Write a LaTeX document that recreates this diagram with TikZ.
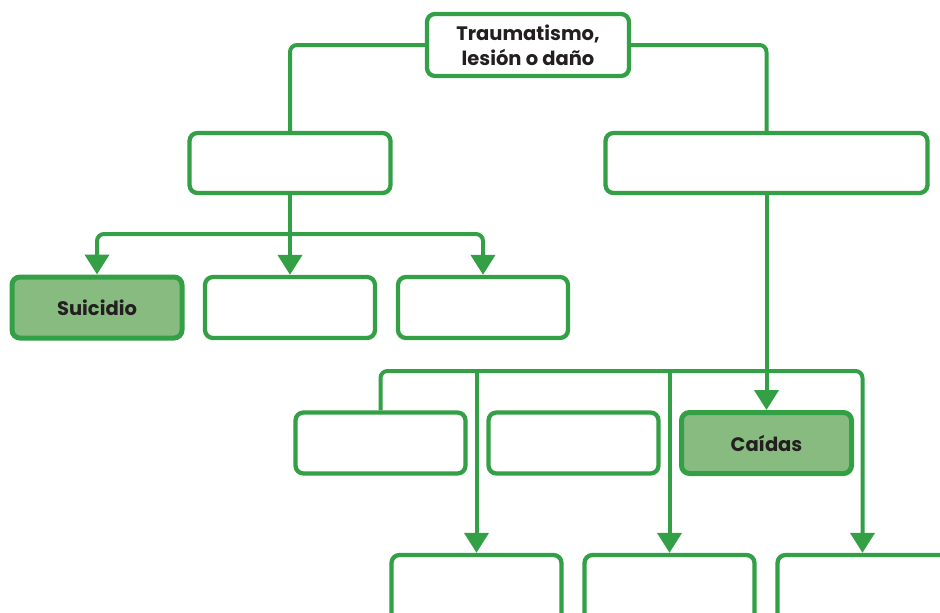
\documentclass[tikz,border=0pt]{standalone}
\usepackage{fontspec}
\setmainfont{Poppins}
\usetikzlibrary{arrows.meta}
\definecolor{gline}{RGB}{52,160,70}
\definecolor{gfill}{RGB}{136,187,128}
\definecolor{txt}{RGB}{35,31,32}
\tikzset{
  box/.style={draw=gline,line width=4.3pt,rounded corners=8pt,fill=white,inner sep=0pt,font=\bfseries\fontsize{19.5}{25}\selectfont,text=txt,align=center},
  hbox/.style={box,fill=gfill,line width=5pt},
  conn/.style={draw=gline,line width=4pt,rounded corners=7pt},
  arr/.style={conn,-{Triangle[width=24pt,length=20pt,sharp]}},
}
\begin{document}
\begin{tikzpicture}[x=1pt,y=-1pt]
\useasboundingbox (0,0) rectangle (940,613);
\clip (0,0) rectangle (940,613);
% nodes
\node[box,minimum width=202pt,minimum height=62pt] (top) at (528,45) {Traumatismo,\\lesión o daño};
\node[box,minimum width=201pt,minimum height=60pt] (la) at (290,163) {};
\node[box,minimum width=322pt,minimum height=60pt] (lb) at (766.5,163) {};
\node[hbox,minimum width=170pt,minimum height=61pt] (s1) at (97,307.5) {Suicidio};
\node[box,minimum width=170pt,minimum height=61pt] (s2) at (290,307.5) {};
\node[box,minimum width=170pt,minimum height=61pt] (s3) at (483,307.5) {};
\node[box,minimum width=170pt,minimum height=61pt] (r1) at (380.5,443) {};
\node[box,minimum width=170pt,minimum height=61pt] (r2) at (573.5,443) {};
\node[hbox,minimum width=170pt,minimum height=61pt] (r3) at (766.5,443) {Caídas};
\node[box,minimum width=170pt,minimum height=70pt] (b1) at (476.5,590) {};
\node[box,minimum width=170pt,minimum height=70pt] (b2) at (669.5,590) {};
\node[box,minimum width=170pt,minimum height=70pt] (b3) at (862.5,590) {};
\coordinate (hl) at (0,234);
\coordinate (hr) at (0,371);
% connectors
\draw[conn] (top.west) -| (la.north);
\draw[conn] (top.east) -| (lb.north);
\draw[arr] (la.south) -- (s2.north);
\draw[arr] (la.south |- hl) -| (s1.north);
\draw[arr] (la.south |- hl) -| (s3.north);
\draw[arr] (lb.south) -- (r3.north);
\draw[conn] (lb.south |- hr) -| (r1.north);
\draw[arr] (lb.south |- hr) -| (b3.north);
\draw[arr] (b1.north |- hr) -- (b1.north);
\draw[arr] (b2.north |- hr) -- (b2.north);
\end{tikzpicture}
\end{document}
